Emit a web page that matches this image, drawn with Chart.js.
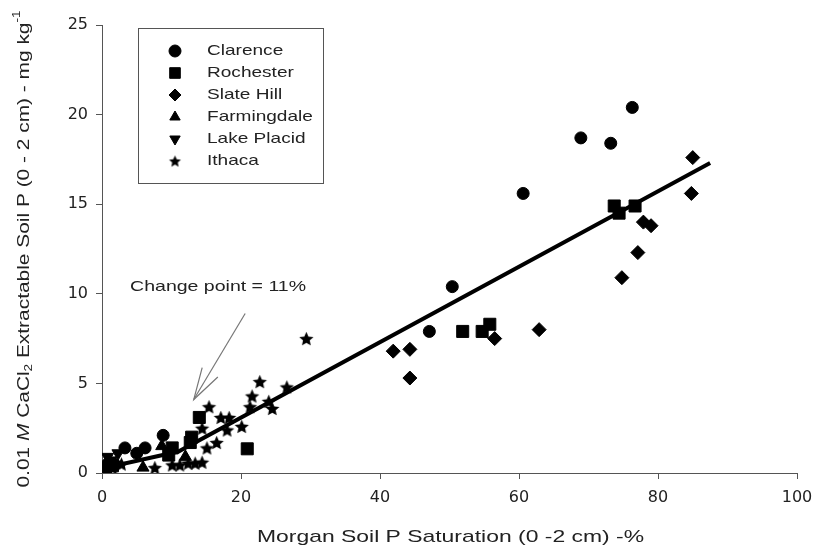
<!DOCTYPE html>
<html><head><meta charset="utf-8">
<script src="https://cdn.jsdelivr.net/npm/chart.js@4.4.1/dist/chart.umd.min.js"></script>
<style>html,body{margin:0;padding:0;background:#fff}canvas{display:block}</style>
</head><body>
<canvas id="c" width="827" height="555"></canvas>
<script>
// ---- data ----
const xTicks = [0, 20, 40, 60, 80, 100];
const yTicks = [0, 5, 10, 15, 20, 25];

const clarenceX = [0.8, 3.3, 5.0, 6.2, 8.8, 47.1, 50.4, 60.6, 68.9, 73.2, 76.3];
const clarenceY = [0.5, 1.4, 1.1, 1.4, 2.1, 7.9, 10.4, 15.6, 18.7, 18.4, 20.4];

const rochesterX = [0.5, 1.5, 9.6, 10.1, 12.7, 12.9, 14.0, 20.9, 51.9, 54.7, 55.8, 73.7, 74.4, 76.7];
const rochesterY = [0.2, 0.4, 1.0, 1.4, 1.7, 2.0, 3.1, 1.35, 7.9, 7.9, 8.3, 14.9, 14.5, 14.9];

const slateHillX = [0.0, 0.5, 41.9, 44.3, 44.3, 56.5, 62.9, 74.8, 77.1, 77.9, 79.0, 84.8, 85.0];
const slateHillY = [0.1, 0.3, 6.8, 6.9, 5.3, 7.5, 8.0, 10.9, 12.3, 14.0, 13.8, 15.6, 17.6];

const farmingdaleX = [0.3, 5.9, 8.6, 12.0];
const farmingdaleY = [0.3, 0.3, 1.5, 0.9];

const lakePlacidX = [0.2, 2.3, 1.2, 0.8];
const lakePlacidY = [0.4, 1.1, 0.7, 0.9];

const ithacaX = [0.3, 0.8, 1.5, 2.0, 2.8, 7.6, 10.1, 11.2, 12.4, 13.4, 14.4, 15.1, 16.5, 14.4, 15.4, 17.1, 18.3, 20.1, 21.3, 24.5, 24.0, 21.6, 22.7, 26.6, 29.4, 18.0];
const ithacaY = [0.2, 0.4, 0.3, 0.6, 0.5, 0.3, 0.45, 0.45, 0.55, 0.55, 0.6, 1.4, 1.7, 2.5, 3.7, 3.1, 3.1, 2.6, 3.7, 3.6, 4.0, 4.3, 5.1, 4.8, 7.5, 2.4];

// segmented regression (change point = 11%)
const fitX = [0, 11, 87.5];
const fitY = [0.25, 1.2, 17.3];

const annotationText = "Change point = 11%";
const annotationLabel = [16.7, 10.4];
const arrowTail = [20.6, 8.9];
const arrowTip = [13.2, 4.1];

const seriesNames = ["Clarence", "Rochester", "Slate Hill", "Farmingdale", "Lake Placid", "Ithaca"];

// ---- helpers ----
function pts(xs, ys) { return xs.map((x, i) => ({x: x, y: ys[i]})); }
function starImg(r) {
  const s = Math.ceil(r * 2 + 2);
  const c = document.createElement('canvas'); c.width = s; c.height = s;
  const g = c.getContext('2d'); g.fillStyle = '#000'; g.beginPath();
  for (let i = 0; i < 10; i++) {
    const rr = i % 2 ? r * 0.47 : r;
    const a = -Math.PI / 2 + i * Math.PI / 5;
    g.lineTo(s / 2 + rr * Math.cos(a), s / 2 + rr * Math.sin(a) + r * 0.1);
  }
  g.closePath(); g.fill();
  return c;
}
const starBig = starImg(7.5);
const starSmall = starImg(6.2);

const base = {backgroundColor: '#000', borderColor: '#000', pointBorderWidth: 1, showLine: false};
const datasets = [
  Object.assign({label: seriesNames[0], data: pts(clarenceX, clarenceY), pointStyle: 'circle', pointRadius: 6}, base),
  Object.assign({label: seriesNames[1], data: pts(rochesterX, rochesterY), pointStyle: 'rect', pointRadius: 8.5}, base),
  Object.assign({label: seriesNames[2], data: pts(slateHillX, slateHillY), pointStyle: 'rectRot', pointRadius: 7}, base),
  Object.assign({label: seriesNames[3], data: pts(farmingdaleX, farmingdaleY), pointStyle: 'triangle', pointRadius: 7}, base),
  Object.assign({label: seriesNames[4], data: pts(lakePlacidX, lakePlacidY), pointStyle: 'triangle', pointRotation: 180, pointRadius: 7}, base),
  Object.assign({label: seriesNames[5], data: pts(ithacaX, ithacaY), pointStyle: starBig, pointRadius: 7}, base),
  {label: 'fit', data: pts(fitX, fitY), showLine: true, borderColor: '#000', borderWidth: 4, pointRadius: 0, fill: false, tension: 0}
];

function fitText(ctx, runs, cx, cy, target, rotate) {
  let w = 0;
  runs.forEach(r => { ctx.font = r[1]; w += ctx.measureText(r[0]).width; });
  const sx = target / w;
  ctx.save();
  ctx.translate(cx, cy);
  if (rotate) ctx.rotate(-Math.PI / 2);
  ctx.scale(sx, 1);
  let x = -w / 2;
  ctx.textBaseline = 'middle'; ctx.textAlign = 'left';
  runs.forEach(r => { ctx.font = r[1]; ctx.fillText(r[0], x, r[2] || 0); x += ctx.measureText(r[0]).width; });
  ctx.restore();
}

const decor = {
  id: 'decor',
  afterDraw(chart) {
    const ctx = chart.ctx, xs = chart.scales.x, ys = chart.scales.y;
    ctx.save();
    ctx.fillStyle = '#222';
    const F = '"Liberation Sans", Arial, sans-serif';
    fitText(ctx, [["Morgan Soil P Saturation (0 -2 cm) -%", '17px ' + F]], (chart.chartArea.left + chart.chartArea.right) / 2 + 1, 537, 387, false);
    fitText(ctx, [
      ["0.01 ", '17px ' + F], ["M", 'italic 17px ' + F], [" CaCl", '17px ' + F], ["2", '11px ' + F, 5],
      [" Extractable Soil P (0 - 2 cm) - mg kg", '17px ' + F], ["-1", '11px ' + F, -7]
    ], 24, 249, 477, true);
    // legend
    ctx.strokeStyle = '#555'; ctx.lineWidth = 1;
    ctx.strokeRect(138.5, 28.5, 185, 155);
    const ly = [51, 73, 95, 117, 139, 161];
    chart.data.datasets.slice(0, 6).forEach((ds, i) => {
      ctx.fillStyle = '#000'; ctx.strokeStyle = '#000';
      const ps = ds.pointStyle === starBig ? starSmall : ds.pointStyle;
      Chart.helpers.drawPoint(ctx, {pointStyle: ps, radius: ds.pointStyle === 'rect' ? 7.5 : 6, rotation: ds.pointRotation || 0, borderWidth: 1}, 175, ly[i]);
      ctx.fillStyle = '#222';
      ctx.save(); ctx.translate(207, ly[i]); ctx.scale(1.27, 1);
      ctx.font = '15px ' + F; ctx.textBaseline = 'middle'; ctx.textAlign = 'left';
      ctx.fillText(ds.label, 0, 0); ctx.restore();
    });
    // annotation
    ctx.fillStyle = '#222';
    fitText(ctx, [[annotationText, '15px ' + F]], xs.getPixelForValue(annotationLabel[0]), ys.getPixelForValue(annotationLabel[1]), 176, false);
    const tx = xs.getPixelForValue(arrowTail[0]), ty = ys.getPixelForValue(arrowTail[1]);
    const hx = xs.getPixelForValue(arrowTip[0]), hy = ys.getPixelForValue(arrowTip[1]);
    ctx.strokeStyle = '#777'; ctx.lineWidth = 1.2;
    ctx.beginPath(); ctx.moveTo(tx, ty); ctx.lineTo(hx, hy); ctx.stroke();
    const ang = Math.atan2(ty - hy, tx - hx), L = 33, da = 0.28;
    ctx.beginPath();
    ctx.moveTo(hx + L * Math.cos(ang - da), hy + L * Math.sin(ang - da));
    ctx.lineTo(hx, hy);
    ctx.lineTo(hx + L * Math.cos(ang + da), hy + L * Math.sin(ang + da));
    ctx.stroke();
    ctx.restore();
  }
};

new Chart(document.getElementById('c'), {
  type: 'scatter',
  data: {datasets: datasets},
  options: {
    responsive: false, animation: false, devicePixelRatio: 1,
    layout: {padding: {top: 25, right: 30, bottom: 0, left: 0}},
    plugins: {legend: {display: false}, tooltip: {enabled: false}},
    scales: {
      x: {
        type: 'linear', min: 0, max: 100,
        afterBuildTicks: s => { s.ticks = xTicks.map(v => ({value: v})); },
        afterFit: s => { s.height = 82; },
        ticks: {font: {family: 'DejaVu Sans', size: 16}, color: '#222', padding: 9, maxRotation: 0},
        grid: {display: true, drawOnChartArea: false, drawTicks: true, tickLength: 6, color: '#555'},
        border: {display: true, color: '#555', width: 1}
      },
      y: {
        type: 'linear', min: 0, max: 25,
        afterBuildTicks: s => { s.ticks = yTicks.map(v => ({value: v})); },
        afterFit: s => { s.width = 102; },
        ticks: {font: {family: 'DejaVu Sans', size: 16}, color: '#222', padding: 8},
        grid: {display: true, drawOnChartArea: false, drawTicks: true, tickLength: 6, color: '#555'},
        border: {display: true, color: '#555', width: 1}
      }
    }
  },
  plugins: [decor]
});
</script>
</body></html>
